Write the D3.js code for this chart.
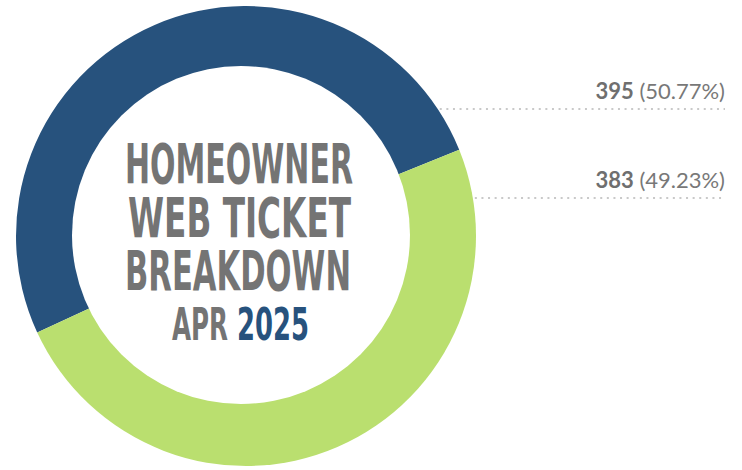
<!DOCTYPE html>
<html>
<head>
<meta charset="utf-8">
<script src="https://cdn.jsdelivr.net/npm/d3@7"></script>
<style>
  html, body { margin: 0; padding: 0; background: #ffffff; }
  svg { display: block; }
</style>
</head>
<body>
<svg id="chart" width="742" height="470"></svg>
<script>
// ---- data ----
const categories = ["Category A", "Category B"];
const values = [395, 383];
const percentLabels = ["50.77%", "49.23%"];
const colors = ["#27527d", "#badf6f"];
const titleLines = ["HOMEOWNER", "WEB TICKET", "BREAKDOWN"];
const subtitleMonth = "APR";
const subtitleYear = "2025";

// ---- layout ----
const svg = d3.select("#chart");
const cx = 246, cy = 236, outerR = 230;
const holeCx = 241, holeCy = 235, holeR = 169;
const grey = "#747474";

const pie = d3.pie().sort(null).value(d => d)
  .startAngle(-114.8 * Math.PI / 180)
  .endAngle((360 - 114.8) * Math.PI / 180);
const arcs = pie(values);
const arc = d3.arc().innerRadius(0).outerRadius(outerR);

const g = svg.append("g").attr("transform", `translate(${cx},${cy})`);
g.selectAll("path.slice").data(arcs).enter().append("path")
  .attr("class", "slice")
  .attr("d", arc)
  .attr("fill", (d, i) => colors[i]);

// hole
svg.append("circle").attr("cx", holeCx).attr("cy", holeCy).attr("r", holeR).attr("fill", "#ffffff");

// ---- centre title (one text block) ----
const titleFont = "'DejaVu Sans Condensed', 'DejaVu Sans', sans-serif";
const titleSpecs = [
  { y: 183, x0: 125, x1: 353 },
  { y: 237, x0: 128, x1: 351 },
  { y: 290, x0: 125, x1: 351 }
];
const title = svg.append("text")
  .attr("font-family", titleFont)
  .attr("font-weight", "bold")
  .attr("font-size", 55)
  .attr("fill", grey);
titleLines.forEach((t, i) => {
  const s = titleSpecs[i];
  title.append("tspan")
    .attr("x", s.x0).attr("y", s.y)
    .attr("textLength", s.x1 - s.x0)
    .attr("lengthAdjust", "spacingAndGlyphs")
    .text(t);
});
title.append("tspan")
  .attr("x", 172).attr("y", 340)
  .attr("font-size", 45)
  .attr("textLength", 56).attr("lengthAdjust", "spacingAndGlyphs")
  .text(subtitleMonth);
title.append("tspan")
  .attr("x", 237).attr("y", 340)
  .attr("font-size", 45)
  .attr("fill", colors[0])
  .attr("textLength", 72).attr("lengthAdjust", "spacingAndGlyphs")
  .text(subtitleYear);

// ---- right labels with dotted leaders ----
const labelRight = 725;
const labelLineY = [109, 198];
labelLineY.forEach((ly, i) => {
  const dy = ly - cy;
  const xStart = cx + Math.sqrt(outerR * outerR - dy * dy) + 2;
  svg.append("line")
    .attr("x1", xStart).attr("x2", labelRight)
    .attr("y1", ly).attr("y2", ly)
    .attr("stroke", "#c9c9c9").attr("stroke-width", 2)
    .attr("stroke-dasharray", "2,4.6");
  const txt = svg.append("text")
    .attr("x", labelRight).attr("y", ly - 10.5)
    .attr("text-anchor", "end")
    .attr("font-family", "Lato, 'Open Sans', sans-serif")
    .attr("font-size", 22)
    .attr("fill", "#787878");
  txt.append("tspan").attr("font-weight", "bold").attr("fill", "#6f6f6f").text(values[i]);
  txt.append("tspan").text(" (" + percentLabels[i] + ")");
});
</script>
</body>
</html>
